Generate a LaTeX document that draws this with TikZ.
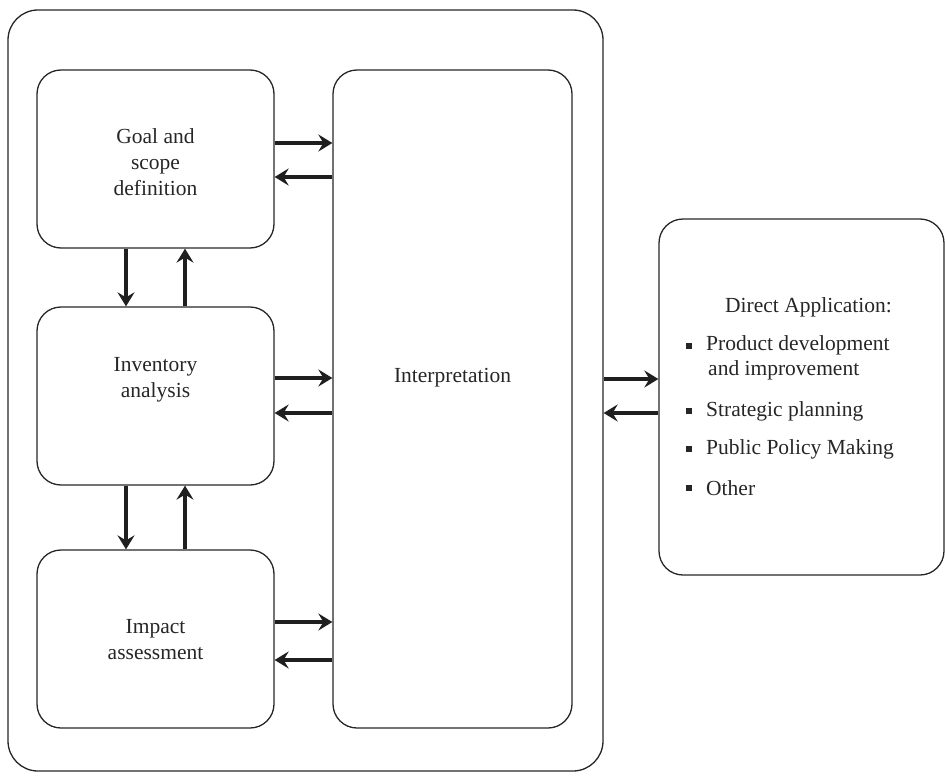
\documentclass[tikz,border=0pt]{standalone}
\usepackage{fontspec}
\setmainfont{Liberation Serif}
\usetikzlibrary{arrows.meta}
\begin{document}
\begin{tikzpicture}[x=1pt,y=-1pt,
  box/.style={draw=black!85,line width=1.3pt,rounded corners=24pt,minimum width=#1,inner sep=0pt},
  lbl/.style={font=\fontsize{21.5}{26}\selectfont,align=center,text=black!85,inner sep=0pt},
  item/.style={font=\fontsize{21.5}{25}\selectfont,align=left,anchor=west,text=black!85,inner sep=0pt},
  arr/.style={line width=3.8pt,draw=black!88,-{Stealth[length=14pt,width=17pt,inset=5pt]}},
  bul/.style={fill=black!85,minimum size=5.5pt,inner sep=0pt}]
\useasboundingbox (0,0) rectangle (945,776);
% frames
\node[box=595pt,minimum height=761pt,rounded corners=30pt] (outer) at (305.5,390.5) {};
\node[box=239pt,minimum height=658pt] (interp) at (452.5,399) {};
\node[box=237pt,minimum height=178pt] (goal) at (155.5,159) {};
\node[box=237pt,minimum height=178pt] (inv) at (155.5,396) {};
\node[box=237pt,minimum height=178pt] (imp) at (155.5,639) {};
\node[box=285pt,minimum height=356pt] (dir) at (801.5,397) {};
% labels
\node[lbl] (tgoal) at (155.5,162) {Goal and\\scope\\definition};
\node[lbl] (tinv) at (155.5,380) {Inventory\\analysis};
\node[lbl] (timp) at (155.5,640) {Impact\\assessment};
\node[lbl] (tint) at (452.5,378) {Interpretation};
\node[item] (dt) at (725,307) {Direct Application:};
\node[bul] (b1) at (689,346) {};
\node[item] (d1) at (706,358) {Product development\\\hspace{2pt}and improvement};
\node[bul] (b2) at (689,411) {};
\node[item] (d2) at (706,411) {Strategic planning};
\node[bul] (b3) at (689,449) {};
\node[item] (d3) at (706,449) {Public Policy Making};
\node[bul] (b4) at (689,488) {};
\node[item] (d4) at (706,488) {Other};
% goal <-> interpretation
\coordinate (g1) at ([yshift=16pt]goal.east);
\coordinate (g2) at ([yshift=-18pt]goal.east);
\draw[arr] (g1) -- (g1 -| interp.west);
\draw[arr] (g2 -| interp.west) -- (g2);
% inventory <-> interpretation
\coordinate (i1) at ([yshift=18pt]inv.east);
\coordinate (i2) at ([yshift=-17pt]inv.east);
\draw[arr] (i1) -- (i1 -| interp.west);
\draw[arr] (i2 -| interp.west) -- (i2);
% impact <-> interpretation
\coordinate (m1) at ([yshift=17pt]imp.east);
\coordinate (m2) at ([yshift=-21pt]imp.east);
\draw[arr] (m1) -- (m1 -| interp.west);
\draw[arr] (m2 -| interp.west) -- (m2);
% vertical arrows
\coordinate (v1) at ([xshift=-29.5pt]goal.south);
\coordinate (v2) at ([xshift=29.5pt]goal.south);
\draw[arr] (v1) -- (v1 |- inv.north);
\draw[arr] (v2 |- inv.north) -- (v2);
\coordinate (w1) at ([xshift=-29.5pt]inv.south);
\coordinate (w2) at ([xshift=29.5pt]inv.south);
\draw[arr] (w1) -- (w1 |- imp.north);
\draw[arr] (w2 |- imp.north) -- (w2);
% outer <-> direct application
\coordinate (o1) at ([yshift=-1pt]i1 -| outer.east);
\coordinate (o2) at (i2 -| outer.east);
\draw[arr] (o1) -- (o1 -| dir.west);
\draw[arr] (o2 -| dir.west) -- (o2);
\end{tikzpicture}
\end{document}
